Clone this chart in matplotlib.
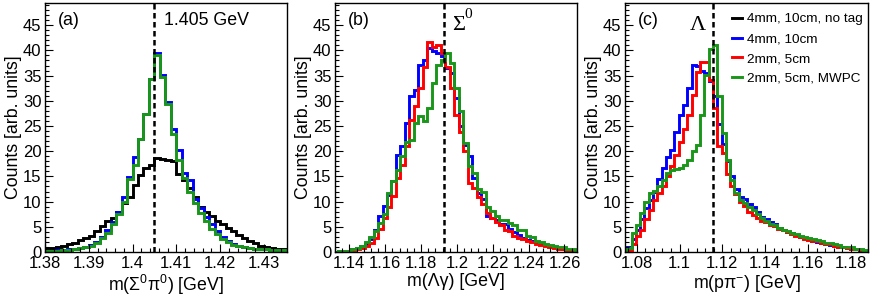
import numpy as np
import matplotlib
matplotlib.use("Agg")
import matplotlib.pyplot as plt
from matplotlib.ticker import MultipleLocator
from matplotlib.lines import Line2D

plt.rcParams['font.family'] = ['Liberation Sans', 'DejaVu Sans']
plt.rcParams['mathtext.fontset'] = 'custom'
plt.rcParams['mathtext.rm'] = 'Liberation Sans'
plt.rcParams['mathtext.it'] = 'Liberation Sans:italic'

# ---- panel (a) : m(Sigma0 pi0), bins of 1.25 MeV from 1.38 GeV
edges_a = np.linspace(1.38, 1.435, 45)
black_a = [0.7, 0.8, 1.0, 1.2, 1.5, 1.8, 2.3, 2.8, 3.2, 4.2, 5.2, 6.1, 6.8, 8.0, 9.7,
           11.0, 13.3, 15.3, 16.6, 17.3, 18.7, 18.4, 18.2, 18.0, 15.5, 14.3, 12.7, 11.0,
           9.0, 7.9, 7.2, 6.2, 5.5, 4.8, 4.2, 3.4, 2.8, 2.2, 1.7, 1.2, 0.9, 0.7, 0.6, 0.5]
blue_a = [0.2, 0.25, 0.3, 0.4, 0.5, 0.6, 0.8, 1.0, 1.4, 2.0, 2.9, 4.3, 6.0, 8.0, 11.0,
          14.8, 18.9, 22.5, 27.3, 34.3, 39.5, 35.2, 29.8, 24.4, 20.3, 15.6, 14.3, 10.5,
          8.8, 6.9, 5.5, 4.1, 3.0, 2.2, 1.6, 1.2, 1.0, 0.8, 0.6, 0.5, 0.5, 0.4, 0.4, 0.3]
green_a = [0.1, 0.15, 0.2, 0.3, 0.4, 0.5, 0.7, 0.9, 1.2, 1.8, 2.7, 3.8, 5.5, 7.5, 10.0,
           14.5, 17.2, 22.5, 27.3, 34.3, 39.0, 34.8, 29.3, 23.5, 18.3, 14.7, 12.0, 9.8,
           7.8, 6.2, 4.6, 3.6, 2.6, 1.9, 1.4, 1.1, 0.9, 0.8, 0.6, 0.5, 0.5, 0.4, 0.4, 0.3]

# ---- panel (b) : m(Lambda gamma), bins of 2.5 MeV
edges_b = 1.131 + 0.0025 * np.arange(56)
blue_b = [0.05, 0.1, 0.1, 0.2, 0.5, 0.8, 1.1, 1.5, 2.6, 4.4, 7.1, 9.1, 11.4, 14.0, 19.3,
          21.0, 25.6, 30.9, 32.2, 37.1, 38.1, 40.4, 39.8, 39.5, 38.8, 36.5, 35.5, 30.5,
          24.9, 21.3, 19.0, 14.7, 11.7, 10.5, 7.1, 6.8, 6.4, 5.6, 5.5, 4.6, 3.9, 3.3, 2.8,
          2.4, 2.1, 1.9, 1.6, 1.3, 1.1, 0.9, 0.7, 0.6, 0.4, 0.3, 0.2]
red_b = [0.0, 0.05, 0.1, 0.15, 0.3, 0.5, 0.8, 1.2, 1.8, 2.8, 4.6, 6.7, 9.0, 11.2, 14.7,
         17.2, 21.0, 26.2, 28.9, 32.5, 36.8, 41.6, 40.6, 41.0, 39.5, 36.8, 32.5, 27.2,
         23.9, 20.0, 13.7, 12.7, 11.0, 9.5, 7.7, 6.8, 6.0, 5.3, 4.4, 4.2, 3.2, 2.8, 2.6,
         2.1, 1.9, 1.6, 1.4, 1.2, 1.0, 0.8, 0.6, 0.5, 0.4, 0.3, 0.2]
green_b = [0.05, 0.1, 0.15, 0.25, 0.5, 0.8, 1.2, 2.0, 2.9, 4.2, 5.8, 7.6, 11.7, 14.0, 16.3,
           19.0, 21.9, 22.3, 25.6, 26.9, 25.9, 28.6, 33.5, 37.1, 38.0, 39.5, 37.5, 32.5,
           28.0, 21.6, 17.0, 15.7, 12.4, 12.0, 9.0, 8.1, 7.2, 6.4, 6.3, 5.8, 5.4, 4.4, 4.4,
           3.1, 3.0, 2.2, 2.0, 1.6, 1.4, 1.2, 1.0, 0.9, 0.6, 0.5, 0.4]

# ---- panel (c) : m(p pi-), bins of 2 MeV
edges_c = 1.0756 + 0.002 * np.arange(57)
blue_c = [1.0, 2.5, 4.4, 6.6, 8.7, 10.4, 12.0, 14.5, 16.7, 18.8, 20.3, 23.9, 27.2, 29.2,
          32.5, 37.1, 37.0, 36.0, 35.5, 34.0, 31.0, 25.3, 21.5, 18.0, 15.0, 12.5, 11.0,
          10.5, 9.5, 9.0, 8.0, 7.0, 6.5, 6.0, 5.5, 4.8, 4.4, 4.0, 3.7, 3.3, 3.0, 2.7, 2.5,
          2.2, 2.0, 1.8, 1.6, 1.4, 1.2, 1.0, 0.9, 0.7, 0.6, 0.5, 0.3, 0.2]
red_c = [0.3, 1.5, 3.1, 4.4, 6.5, 8.4, 10.4, 11.7, 13.0, 15.0, 17.0, 19.3, 21.9, 24.5,
         27.2, 31.2, 35.8, 37.6, 37.6, 34.2, 28.6, 21.0, 19.6, 15.5, 13.0, 11.5, 10.0,
         9.1, 8.0, 7.4, 6.8, 6.1, 6.0, 5.3, 5.1, 4.6, 4.4, 3.9, 3.6, 3.1, 2.9, 2.6, 2.4,
         2.2, 2.1, 1.8, 1.6, 1.5, 1.2, 1.0, 0.9, 0.7, 0.6, 0.5, 0.3, 0.2]
green_c = [0.8, 3.8, 5.4, 7.7, 10.0, 11.7, 12.2, 13.0, 14.3, 15.7, 16.3, 16.4, 16.7, 17.3,
           18.3, 20.0, 21.3, 27.2, 35.2, 40.2, 41.1, 30.9, 23.6, 18.3, 14.3, 11.7, 10.4,
           9.7, 9.0, 8.4, 7.5, 6.7, 6.1, 5.6, 5.4, 4.8, 4.4, 4.1, 3.8, 3.6, 3.1, 2.9, 2.8,
           2.5, 2.4, 2.2, 1.8, 1.8, 1.5, 1.4, 1.0, 1.0, 0.9, 0.6, 0.5, 0.3]

labels = ["4mm, 10cm, no tag", "4mm, 10cm", "2mm, 5cm", "2mm, 5cm, MWPC"]
GREEN = '#1a961a'

fig = plt.figure(figsize=(8.72, 2.98), dpi=100)
ax_a = fig.add_axes([45/872, 46/298, 242/872, 249/298])
ax_b = fig.add_axes([335/872, 46/298, 242/872, 249/298])
ax_c = fig.add_axes([625/872, 46/298, 243/872, 249/298])

lw = 2.1
ax_a.stairs(black_a, edges_a, color='black', lw=lw)
ax_a.stairs(blue_a, edges_a, color='blue', lw=lw)
ax_a.stairs(green_a, edges_a, color=GREEN, lw=lw)

ax_b.stairs(blue_b, edges_b, color='blue', lw=lw)
ax_b.stairs(red_b, edges_b, color='red', lw=lw)
ax_b.stairs(green_b, edges_b, color=GREEN, lw=lw)

ax_c.stairs(blue_c, edges_c, color='blue', lw=lw)
ax_c.stairs(red_c, edges_c, color='red', lw=lw)
ax_c.stairs(green_c, edges_c, color=GREEN, lw=lw)

ax_a.set_xlim(1.38, 1.4353)
ax_b.set_xlim(1.132, 1.267)
ax_c.set_xlim(1.0745, 1.188)

ax_a.xaxis.set_minor_locator(MultipleLocator(0.002))
for ax in (ax_b, ax_c):
    ax.xaxis.set_minor_locator(MultipleLocator(0.004))

ax_a.set_xticks([1.38, 1.39, 1.4, 1.41, 1.42, 1.43])
ax_a.set_xticklabels(["1.38", "1.39", "1.4", "1.41", "1.42", "1.43"])
ax_b.set_xticks([1.14, 1.16, 1.18, 1.2, 1.22, 1.24, 1.26])
ax_b.set_xticklabels(["1.14", "1.16", "1.18", "1.2", "1.22", "1.24", "1.26"])
ax_c.set_xticks([1.08, 1.1, 1.12, 1.14, 1.16, 1.18])
ax_c.set_xticklabels(["1.08", "1.1", "1.12", "1.14", "1.16", "1.18"])

for ax, x0 in ((ax_a, 1.405), (ax_b, 1.1926), (ax_c, 1.11568)):
    ax.axvline(x0, color='black', lw=1.8, ls=(0, (2.2, 1.4)))
    ax.set_ylim(0, 49.4)
    ax.yaxis.set_major_locator(MultipleLocator(5))
    ax.yaxis.set_minor_locator(MultipleLocator(1))
    ax.tick_params(which='both', direction='in', top=False, right=False,
                   labelsize=12, width=0.8)
    ax.tick_params(which='major', length=6)
    ax.tick_params(which='minor', length=3)
    ax.tick_params(axis='y', pad=2.5)
    ax.tick_params(axis='x', pad=3)
    for s in ax.spines.values():
        s.set_linewidth(1.0)
    ax.set_ylabel("Counts [arb. units]", fontsize=12.8, labelpad=1)

ax_a.set_xlabel("m(Σ$^{0}$π$^{0}$) [GeV]", fontsize=12.8, labelpad=1)
ax_b.set_xlabel("m(Λγ) [GeV]", fontsize=12.8, labelpad=1)
ax_c.set_xlabel("m(pπ$^{-}$) [GeV]", fontsize=12.8, labelpad=1)

ax_a.text(0.055, 0.93, "(a)", transform=ax_a.transAxes, fontsize=12.8, va='center')
ax_a.text(0.49, 0.93, "1.405 GeV", transform=ax_a.transAxes, fontsize=12.8, va='center')
ax_b.text(0.055, 0.93, "(b)", transform=ax_b.transAxes, fontsize=12.8, va='center')
ax_b.text(0.485, 0.91, "Σ", transform=ax_b.transAxes, fontsize=16,
          family='Liberation Serif', va='center')
ax_b.text(0.535, 0.955, "0", transform=ax_b.transAxes, fontsize=11,
          family='Liberation Serif', va='center')
ax_c.text(0.055, 0.93, "(c)", transform=ax_c.transAxes, fontsize=12.8, va='center')
ax_c.text(0.268, 0.91, "Λ", transform=ax_c.transAxes, fontsize=16,
          family='Liberation Serif', va='center')

handles = [Line2D([], [], color=c, lw=lw) for c in ('black', 'blue', 'red', GREEN)]
ax_c.legend(handles, labels, loc='upper left', bbox_to_anchor=(0.44, 0.96),
            frameon=False, fontsize=9.7, handlelength=0.75, handletextpad=0.4,
            labelspacing=0.55, borderpad=0, borderaxespad=0)

fig.savefig("out.png", dpi=100)
